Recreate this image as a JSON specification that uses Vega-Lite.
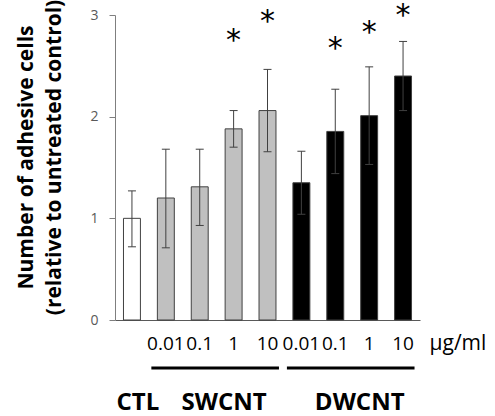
{
  "$schema": "https://vega.github.io/schema/vega-lite/v6.json",
  "width": 305,
  "height": 305,
  "autosize": {"type": "none"},
  "padding": {"left": 115, "top": 15, "right": 75, "bottom": 96},
  "background": "white",
  "config": {"view": {"stroke": null}, "font": "Open Sans"},
  "datasets": {
    "bars": [
      {"cat": "CTL", "group": "CTL", "dose": "", "mean": 1.0, "lo": 0.72, "hi": 1.27, "star": null},
      {"cat": "SW 0.01", "group": "SWCNT", "dose": "0.01", "mean": 1.2, "lo": 0.71, "hi": 1.68, "star": null},
      {"cat": "SW 0.1", "group": "SWCNT", "dose": "0.1", "mean": 1.31, "lo": 0.93, "hi": 1.68, "star": null},
      {"cat": "SW 1", "group": "SWCNT", "dose": "1", "mean": 1.88, "lo": 1.7, "hi": 2.06, "star": 2.82},
      {"cat": "SW 10", "group": "SWCNT", "dose": "10", "mean": 2.06, "lo": 1.655, "hi": 2.465, "star": 3.01},
      {"cat": "DW 0.01", "group": "DWCNT", "dose": "0.01", "mean": 1.35, "lo": 1.04, "hi": 1.66, "star": null},
      {"cat": "DW 0.1", "group": "DWCNT", "dose": "0.1", "mean": 1.855, "lo": 1.44, "hi": 2.27, "star": 2.74},
      {"cat": "DW 1", "group": "DWCNT", "dose": "1", "mean": 2.01, "lo": 1.53, "hi": 2.49, "star": 2.9},
      {"cat": "DW 10", "group": "DWCNT", "dose": "10", "mean": 2.4, "lo": 2.06, "hi": 2.74, "star": 3.07}
    ],
    "lines": [
      {"start": "SW 0.01", "end": "SW 10"},
      {"start": "DW 0.01", "end": "DW 10"}
    ],
    "labels": [
      {"label": "SWCNT", "anchor": "SW 1"},
      {"label": "DWCNT", "anchor": "DW 1"}
    ]
  },
  "layer": [
    {
      "data": {"name": "bars"},
      "mark": {"type": "bar", "stroke": "#404040", "strokeWidth": 1},
      "encoding": {
        "x": {"field": "cat", "type": "nominal", "sort": null,
          "scale": {"domain": ["CTL","SW 0.01","SW 0.1","SW 1","SW 10","DW 0.01","DW 0.1","DW 1","DW 10"], "paddingInner": 0.5, "paddingOuter": 0.25},
          "axis": {"labels": false, "ticks": false, "title": null, "domainColor": "#595959", "grid": false}},
        "y": {"field": "mean", "type": "quantitative",
          "scale": {"domain": [0, 3], "nice": false},
          "axis": {"values": [0, 1, 2, 3], "format": "d", "grid": false, "tickSize": 6, "tickColor": "#7f7f7f", "domainColor": "#7f7f7f",
            "labelColor": "#595959", "labelFontSize": 14, "labelFont": "Open Sans", "labelPadding": 11,
            "title": ["Number of adhesive cells", "(relative to untreated control)"],
            "titleFontSize": 21, "titleFontWeight": "bold", "titleFont": "Open Sans", "titleColor": "black",
            "titleLineHeight": 28, "titleX": -100, "titleY": 142, "titleAngle": -90, "titleAlign": "center", "titleBaseline": "top"}},
        "fill": {"field": "group", "type": "nominal", "scale": {"domain": ["CTL", "SWCNT", "DWCNT"], "range": ["white", "#c0c0c0", "black"]}, "legend": null}
      }
    },
    {
      "data": {"name": "bars"},
      "mark": {"type": "rule", "color": "#404040", "strokeWidth": 1},
      "encoding": {
        "x": {"field": "cat", "type": "nominal", "sort": null},
        "y": {"field": "lo", "type": "quantitative"},
        "y2": {"field": "hi"}
      }
    },
    {
      "data": {"name": "bars"},
      "mark": {"type": "tick", "orient": "horizontal", "size": 8, "thickness": 1, "color": "#404040", "opacity": 1},
      "encoding": {
        "x": {"field": "cat", "type": "nominal", "sort": null},
        "y": {"field": "hi", "type": "quantitative"}
      }
    },
    {
      "data": {"name": "bars"},
      "mark": {"type": "tick", "orient": "horizontal", "size": 8, "thickness": 1, "color": "#404040", "opacity": 1},
      "encoding": {
        "x": {"field": "cat", "type": "nominal", "sort": null},
        "y": {"field": "lo", "type": "quantitative"}
      }
    },
    {
      "data": {"name": "bars"},
      "transform": [{"filter": "datum.star != null"}],
      "mark": {"type": "text", "text": "*", "font": "DejaVu Sans", "fontSize": 30, "baseline": "alphabetic", "dy": 17, "clip": false, "color": "black"},
      "encoding": {
        "x": {"field": "cat", "type": "nominal", "sort": null},
        "y": {"field": "star", "type": "quantitative"}
      }
    },
    {
      "data": {"name": "bars"},
      "mark": {"type": "text", "fontSize": 19, "font": "Open Sans", "baseline": "middle", "color": "black"},
      "encoding": {
        "x": {"field": "cat", "type": "nominal", "sort": null},
        "y": {"datum": -0.236},
        "text": {"field": "dose"}
      }
    },
    {
      "data": {"values": [{"unit": "μg/ml", "anchor": "DW 10"}]},
      "mark": {"type": "text", "fontSize": 21, "font": "Open Sans", "baseline": "middle", "align": "left", "dx": 18, "color": "black"},
      "encoding": {
        "x": {"field": "anchor", "type": "nominal", "bandPosition": 1},
        "y": {"datum": -0.236},
        "text": {"field": "unit"}
      }
    },
    {
      "data": {"name": "lines"},
      "mark": {"type": "rule", "strokeWidth": 3, "color": "black", "xOffset": -6, "x2Offset": 3},
      "encoding": {
        "x": {"field": "start", "type": "nominal", "bandPosition": 0},
        "x2": {"field": "end", "bandPosition": 1},
        "y": {"datum": -0.472}
      }
    },
    {
      "data": {"values": [{"label": "CTL", "anchor": "CTL"}]},
      "mark": {"type": "text", "fontSize": 24, "font": "Open Sans", "fontWeight": "bold", "baseline": "middle", "dx": 6, "color": "black"},
      "encoding": {
        "x": {"field": "anchor", "type": "nominal", "bandPosition": 0.5},
        "y": {"datum": -0.816},
        "text": {"field": "label"}
      }
    },
    {
      "data": {"name": "labels"},
      "mark": {"type": "text", "fontSize": 24, "font": "Open Sans", "fontWeight": "bold", "baseline": "middle", "dx": -1, "color": "black"},
      "encoding": {
        "x": {"field": "anchor", "type": "nominal", "bandPosition": 0},
        "y": {"datum": -0.816},
        "text": {"field": "label"}
      }
    }
  ]
}
